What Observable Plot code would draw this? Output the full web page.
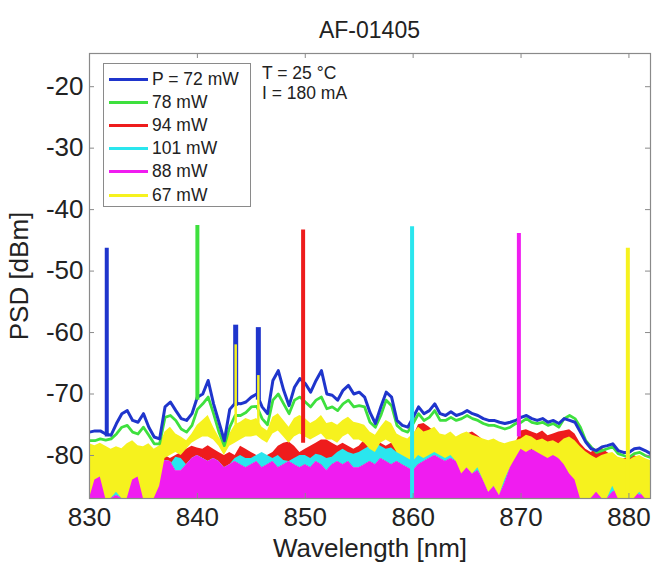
<!DOCTYPE html>
<html><head><meta charset="utf-8">
<script src="https://cdn.jsdelivr.net/npm/d3@7"></script>
<script src="https://cdn.jsdelivr.net/npm/@observablehq/plot@0.6"></script>
<style>
body{margin:0;background:#fff;}
#wrap{position:relative;width:656px;height:565px;font-family:"Liberation Sans",Arial,sans-serif;color:#222;}
#title{position:absolute;left:89px;width:561px;top:17px;line-height:26px;text-align:center;font-size:23px;}
#legend{position:absolute;left:103px;top:63px;width:148px;height:144px;border:1.3px solid #8a8a8a;background:#fff;box-sizing:border-box;}
.row{position:absolute;left:0;height:23px;display:flex;align-items:center;font-size:17.5px;white-space:nowrap;}
.sw{display:inline-block;width:39px;height:3px;margin-left:5px;margin-right:4px;}
#cond{position:absolute;left:262px;top:63px;font-size:17.5px;line-height:20px;}
</style></head><body>
<div id="wrap"><div id="chart"></div><div id="title">AF-01405</div><div id="legend"></div><div id="cond">T = 25 °C<br>I = 180 mA</div></div>
<script>
const series = ["P = 72 mW", "78 mW", "94 mW", "101 mW", "88 mW", "67 mW"];
const colors = ["#1f35cc", "#3ee03e", "#ee1c1c", "#2ae6ee", "#f01cf0", "#f6f21e"];
const xTicks = [830, 840, 850, 860, 870, 880];
const yTicks = [-80, -70, -60, -50, -40, -30, -20];

// sampling grid: 830 ... 882 nm every 0.5 nm
const wl = d3.range(830, 882.25, 0.5);

const blueHi = [
 -76.2,-76.0,-76.0,-76.5,-76.7,-74.8,-73.2,-72.7,-74.3,-74.6,
 -73.2,-75.4,-77.0,-77.3,-72.1,-71.3,-72.7,-74.0,-74.3,-73.2,
 -70.5,-70.0,-67.8,-71.6,-74.6,-77.6,-72.5,-71.5,-71.6,-71.3,
 -70.5,-70.0,-72.1,-73.2,-67.8,-66.2,-69.4,-71.9,-68.9,-67.5,
 -68.3,-69.7,-67.8,-66.2,-70.0,-70.2,-71.0,-69.4,-68.6,-70.0,
 -69.7,-70.5,-73.0,-74.8,-72.1,-69.7,-70.5,-74.3,-75.1,-75.4,
 -73.8,-72.1,-73.2,-72.7,-71.6,-73.2,-73.5,-72.9,-73.5,-73.2,
 -72.7,-73.2,-73.5,-74.0,-74.3,-74.3,-74.6,-74.8,-74.6,-74.3,
 -73.8,-73.5,-74.0,-74.3,-74.0,-74.6,-74.3,-74.8,-74.0,-74.3,
 -74.6,-76.2,-77.8,-78.9,-79.2,-78.6,-78.4,-78.1,-79.2,-79.5,
 -79.5,-78.9,-78.8,-79.2,-79.7];

const greenHi = [
 -77.6,-77.6,-77.3,-77.5,-77.3,-76.5,-75.4,-75.1,-76.2,-76.5,
 -75.4,-76.7,-78.1,-78.1,-73.8,-73.5,-74.3,-75.7,-76.2,-75.1,
 -72.5,-71.6,-70.5,-73.2,-76.2,-78.4,-75.4,-73.5,-73.5,-73.0,
 -72.1,-72.0,-74.0,-75.0,-71.0,-70.0,-71.6,-73.2,-71.0,-70.5,
 -71.3,-72.1,-71.0,-70.5,-72.4,-72.1,-72.7,-71.6,-71.0,-72.1,
 -71.9,-72.1,-74.6,-75.4,-73.5,-71.0,-71.9,-75.1,-75.9,-76.2,
 -74.8,-73.2,-74.3,-73.8,-72.7,-74.3,-74.3,-73.8,-74.3,-74.0,
 -73.5,-74.0,-74.3,-74.8,-75.1,-75.1,-75.4,-75.7,-75.4,-74.8,
 -74.6,-74.0,-74.6,-74.8,-74.6,-75.1,-74.8,-75.4,-74.0,-73.5,
 -74.0,-75.4,-77.6,-78.6,-79.5,-79.2,-78.9,-78.6,-79.7,-80.0,
 -80.3,-79.7,-79.5,-80.0,-80.3];

const redHi = [
 -80.0,-80.5,-80.0,-80.5,-80.0,-79.5,-80.0,-79.5,-79.0,-80.0,
 -80.0,-80.5,-81.0,-80.5,-80.0,-80.5,-80.0,-79.5,-79.0,-78.5,
 -78.8,-79.0,-78.4,-79.0,-79.5,-80.0,-79.5,-80.0,-78.5,-79.0,
 -79.5,-80.0,-80.5,-80.0,-79.5,-78.5,-78.0,-77.8,-78.5,-79.5,
 -79.0,-78.5,-78.0,-77.5,-77.5,-78.0,-78.5,-78.0,-78.5,-79.0,
 -78.5,-77.5,-76.8,-77.3,-78.0,-78.5,-78.0,-78.5,-79.0,-78.5,
 -77.0,-75.0,-74.8,-75.4,-76.2,-77.0,-77.5,-77.0,-77.8,-77.5,
 -76.5,-76.2,-76.8,-77.5,-78.0,-78.5,-78.0,-78.5,-78.8,-78.0,
 -76.0,-75.8,-76.2,-76.5,-76.0,-76.8,-76.5,-76.2,-76.0,-75.8,
 -76.5,-78.0,-79.0,-79.5,-79.0,-78.8,-79.5,-80.0,-80.5,-80.5,
 -80.5,-80.0,-80.5,-81.0,-81.0];

const cyanHi = [
 -82.0,-82.5,-82.0,-82.5,-82.0,-82.0,-82.5,-82.0,-82.0,-82.0,
 -82.0,-82.0,-82.0,-82.5,-82.0,-81.5,-80.3,-80.5,-81.5,-82.0,
 -82.0,-82.5,-82.0,-81.5,-82.0,-82.5,-81.5,-80.5,-80.0,-80.5,
 -80.5,-80.0,-79.5,-80.0,-80.5,-80.0,-80.8,-81.0,-80.5,-80.0,
 -80.0,-80.5,-79.8,-80.0,-80.5,-80.3,-79.5,-79.0,-79.5,-79.8,
 -79.5,-79.0,-78.5,-78.0,-78.5,-79.0,-78.8,-79.5,-79.0,-79.5,
 -80.0,-79.5,-80.0,-79.5,-79.0,-78.5,-78.8,-79.0,-79.5,-80.0,
 -79.5,-79.0,-79.5,-80.0,-79.5,-79.0,-79.5,-80.0,-80.5,-80.0,
 -80.5,-81.0,-80.5,-80.0,-80.5,-81.0,-80.5,-80.0,-79.5,-79.0,
 -79.5,-80.5,-81.0,-81.5,-82.0,-82.5,-82.0,-82.5,-83.0,-82.5,
 -82.5,-83.0,-82.5,-83.0,-83.0];

const magentaHi = [
 -86.5,-83.0,-82.5,-86.0,-87.0,-86.5,-87.0,-86.0,-83.0,-82.5,
 -86.5,-86.0,-85.0,-82.0,-80.8,-81.0,-82.5,-82.5,-81.5,-80.5,
 -80.0,-80.5,-81.0,-80.5,-81.0,-82.0,-81.5,-81.0,-81.5,-82.0,
 -81.5,-81.0,-82.0,-81.5,-81.0,-82.0,-81.5,-81.0,-81.5,-82.0,
 -81.5,-82.0,-81.0,-81.5,-82.5,-81.5,-81.0,-81.5,-81.0,-82.0,
 -82.0,-81.5,-81.0,-81.5,-80.5,-81.0,-81.5,-81.0,-81.5,-82.0,
 -82.5,-81.5,-81.0,-80.5,-80.0,-80.5,-81.0,-80.5,-81.0,-82.0,
 -82.0,-83.0,-82.5,-84.0,-86.0,-85.0,-86.5,-84.5,-82.0,-80.0,
 -79.0,-78.5,-79.2,-78.8,-79.5,-80.0,-79.5,-80.5,-81.0,-82.0,
 -83.5,-84.0,-85.0,-86.0,-85.0,-86.5,-87.0,-86.0,-85.5,-86.5,
 -86.0,-85.5,-86.5,-86.0,-85.0];

const yellowHi = [
 -78.1,-78.4,-78.0,-78.5,-79.0,-78.6,-78.9,-78.1,-77.6,-78.4,
 -78.6,-78.1,-79.0,-78.4,-76.2,-75.4,-76.5,-77.0,-77.6,-76.5,
 -75.1,-74.3,-73.5,-75.4,-77.0,-78.4,-76.5,-75.0,-74.6,-74.0,
 -74.3,-74.0,-75.4,-76.0,-73.8,-73.2,-74.3,-75.4,-74.0,-73.5,
 -74.0,-74.8,-74.3,-73.5,-74.8,-74.6,-75.1,-74.3,-73.8,-74.6,
 -74.8,-75.1,-76.2,-76.7,-75.4,-74.3,-74.8,-76.5,-77.0,-77.3,
 -76.5,-75.4,-76.2,-75.9,-75.4,-76.5,-76.7,-76.2,-77.0,-76.5,
 -76.2,-76.7,-77.0,-77.3,-77.6,-77.3,-77.8,-78.1,-77.8,-77.6,
 -77.3,-76.7,-77.0,-77.6,-77.3,-77.8,-77.6,-78.1,-77.3,-77.0,
 -77.6,-78.6,-79.4,-80.0,-80.5,-80.0,-79.7,-79.5,-80.3,-80.5,
 -80.8,-80.3,-80.0,-80.5,-80.8];

const yellowLo = [
 -87.0,-84.0,-83.5,-87.0,-87.0,-86.0,-87.0,-87.0,-84.0,-83.5,
 -87.0,-87.0,-87.0,-85.0,-80.5,-80.0,-79.5,-80.0,-79.0,-78.0,
 -77.5,-77.0,-77.0,-77.5,-78.5,-80.0,-78.5,-78.0,-77.5,-77.0,
 -77.0,-76.8,-77.5,-78.0,-76.5,-76.0,-77.0,-78.0,-77.0,-76.5,
 -77.0,-77.5,-77.0,-76.5,-77.5,-77.5,-78.0,-77.0,-76.5,-77.5,
 -77.5,-78.0,-79.0,-79.5,-78.0,-77.5,-78.0,-79.5,-80.0,-80.5,
 -81.0,-80.0,-80.5,-80.0,-79.5,-80.0,-80.5,-80.0,-81.0,-83.0,
 -82.0,-83.0,-82.0,-84.0,-86.0,-85.0,-86.5,-84.0,-82.0,-80.5,
 -79.0,-79.5,-79.0,-79.5,-80.0,-80.5,-80.0,-80.5,-81.5,-83.0,
 -84.0,-87.0,-87.0,-87.0,-86.0,-87.0,-87.0,-85.0,-87.0,-87.0,
 -87.0,-87.0,-86.0,-87.0,-87.0];

// main lasing lines (one per series)
const peakX = [831.6, 840.0, 849.8, 859.9, 869.8, 879.9];
const peakTop = [-46.3, -42.6, -43.3, -42.8, -43.9, -46.3];
const peakBase = [-77, -71, -78, -87, -77, -87];
// secondary spikes
const subPeakX = [843.55, 845.65, 843.55, 845.65];
const subPeakTop = [-58.8, -59.2, -62.0, -67.0];
const subPeakBase = [-72, -71, -75, -75];
const subPeakSeries = [0, 0, 5, 5];
const subPeakWidth = [5, 5, 2.5, 2.5];

const yBottom = -87, yTop = -14.6;
const idx = d3.range(wl.length);
const pIdx = d3.range(peakX.length);
const sIdx = d3.range(subPeakX.length);
const gray = "#8a8a8a";

const chart = Plot.plot({
  width: 656, height: 565,
  marginTop: 53, marginBottom: 67, marginLeft: 89, marginRight: 6,
  x: {domain: [830, 882]},
  y: {domain: [yBottom, yTop]},
  style: {fontFamily: '"Liberation Sans", Arial, sans-serif', fontSize: "26px", color: "#222", background: "#fff"},
  marks: [
    Plot.areaY(idx, {x: i => wl[i], y1: i => redHi[i], y2: i => magentaHi[i], fill: colors[2], clip: true}),
    Plot.areaY(idx, {x: i => wl[i], y1: i => cyanHi[i], y2: i => magentaHi[i], fill: colors[3], clip: true}),
    Plot.areaY(idx, {x: i => wl[i], y1: i => magentaHi[i], y2: yBottom, fill: colors[4], clip: true}),
    Plot.areaY(idx, {x: i => wl[i], y1: i => yellowHi[i], y2: i => yellowLo[i], fill: colors[5], clip: true}),
    Plot.lineY(idx, {x: i => wl[i], y: i => greenHi[i], stroke: colors[1], strokeWidth: 2.8, clip: true}),
    Plot.lineY(idx, {x: i => wl[i], y: i => blueHi[i], stroke: colors[0], strokeWidth: 3, clip: true}),
    Plot.ruleX(sIdx, {x: i => subPeakX[i], y1: i => subPeakBase[i], y2: i => subPeakTop[i], stroke: i => colors[subPeakSeries[i]], strokeWidth: i => subPeakWidth[i], clip: true}),
    Plot.ruleX(pIdx, {x: i => peakX[i], y1: i => peakBase[i], y2: i => peakTop[i], stroke: i => colors[i], strokeWidth: 4, clip: true}),
    Plot.frame({stroke: gray, strokeWidth: 1.2}),
    Plot.tickX(xTicks, {x: d => d, insetTop: 440, stroke: gray}),
    Plot.tickX(xTicks, {x: d => d, insetBottom: 440, stroke: gray}),
    Plot.tickY(yTicks, {y: d => d, insetRight: 556, stroke: gray}),
    Plot.tickY(yTicks, {y: d => d, insetLeft: 556, stroke: gray}),
    Plot.axisX(xTicks, {tickSize: 0, tickPadding: 9, tickFormat: d => String(d), label: "Wavelength [nm]", labelAnchor: "center", labelArrow: "none", labelOffset: 58}),
    Plot.axisY(yTicks, {tickSize: 0, tickPadding: 6, tickFormat: d => String(d), label: "PSD [dBm]", labelAnchor: "center", labelArrow: "none", labelOffset: 80})
  ]
});
document.getElementById("chart").appendChild(chart);

const legend = document.getElementById("legend");
const rowCenters = [15, 38, 61, 84, 107, 131];
series.forEach((name, i) => {
  const row = document.createElement("div");
  row.className = "row";
  row.style.top = (rowCenters[i] - 11.5) + "px";
  const sw = document.createElement("span");
  sw.className = "sw";
  sw.style.background = colors[i];
  row.appendChild(sw);
  row.appendChild(document.createTextNode(name));
  legend.appendChild(row);
});
</script>
</body></html>
